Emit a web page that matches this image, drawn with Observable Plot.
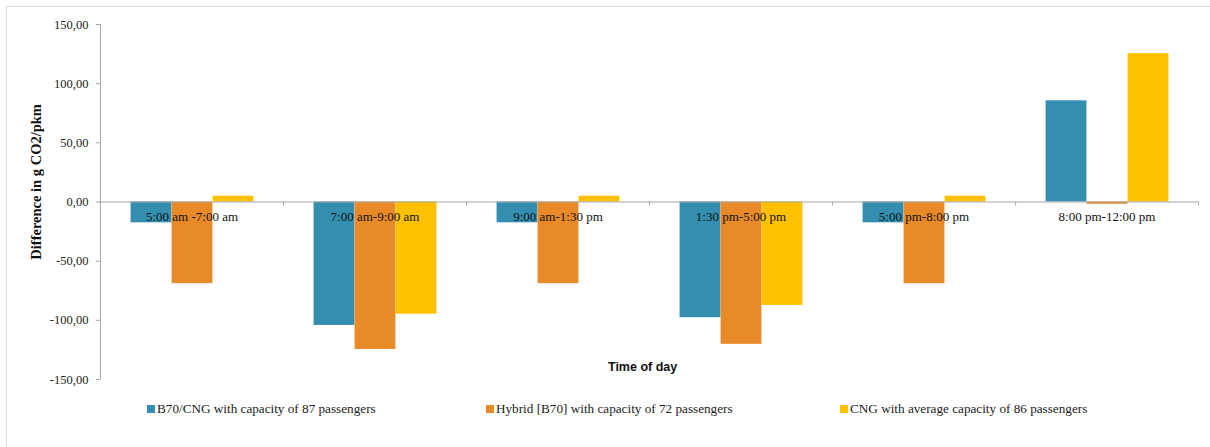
<!DOCTYPE html>
<html>
<head>
<meta charset="utf-8">
<script src="https://cdn.jsdelivr.net/npm/d3@7"></script>
<script src="https://cdn.jsdelivr.net/npm/@observablehq/plot@0.6"></script>
<style>
  html, body { margin: 0; padding: 0; background: #fff; }
  #wrap { position: relative; width: 1210px; height: 447px; overflow: hidden; }
  #frame { position: absolute; left: 6px; top: 6px; width: 1220px; height: 460px;
           border-left: 1px solid #d9d9d9; border-top: 1px solid #d9d9d9; }
  #chart { position: absolute; left: 0; top: 0; }
  #legend { position: absolute; top: 401px; left: 0; width: 1210px; height: 20px;
            font-family: "Liberation Serif", serif; font-size: 13.2px; color: #222; }
  .item { position: absolute; top: 0; display: flex; align-items: center; white-space: nowrap; }
  .sw { width: 8px; height: 8px; margin-right: 2px; }
</style>
</head>
<body>
<div id="wrap">
  <div id="frame"></div>
  <div id="chart"></div>
  <div id="legend"></div>
</div>
<script>
const categories = ["5:00 am -7:00 am", "7:00 am-9:00 am", "9:00 am-1:30 pm", "1:30 pm-5:00 pm", "5:00 pm-8:00 pm", "8:00 pm-12:00 pm"];
const seriesNames = ["B70/CNG with capacity of 87 passengers", "Hybrid [B70] with capacity of 72 passengers", "CNG with average capacity of 86 passengers"];
const b70cng = [-17.6, -104.3, -17.6, -97.8, -17.6, 85.5];
const hybrid = [-69.0, -124.6, -69.0, -120.3, -69.0, -1.9];
const cng    = [4.9, -94.8, 4.9, -87.4, 4.9, 125.4];
const colors = ["#348EB0", "#E88A27", "#FFC000"];
const yTicks = [-150, -100, -50, 0, 50, 100, 150];

const seriesValues = [b70cng, hybrid, cng];
const data = [];
seriesValues.forEach((vals, s) => vals.forEach((v, i) => data.push({time: categories[i], series: seriesNames[s], value: v})));

const W = 1210, H = 392;
const mL = 99, mR = 12, mT = 24, mB = 13;
const bw = (W - mL - mR) / categories.length;
const barW = 41;
const off = (bw - 3 * barW) / 2 + 0.5;

const fmt = v => d3.format(".2f")(v).replace(".", ",").replace("−", "-");
const serif = "Liberation Serif, serif";
const first = () => categories[0];

const barMarks = seriesNames.map((name, s) =>
  Plot.barY(data.filter(d => d.series === name), {
    x: "time", y: "value", fill: colors[s],
    insetLeft: off + s * barW, insetRight: bw - off - (s + 1) * barW
  })
);

const chart = Plot.plot({
  width: W, height: H,
  marginLeft: mL, marginRight: mR, marginTop: mT, marginBottom: mB,
  style: {fontFamily: serif, background: "transparent", overflow: "visible"},
  x: {domain: categories, padding: 0, axis: null},
  y: {domain: [-150, 150], axis: null},
  marks: [
    ...barMarks,
    Plot.ruleY([0], {stroke: "#a6a6a6", strokeWidth: 1}),
    Plot.ruleX(categories, {x: d => d, y1: 0, y2: -3.3, dx: bw / 2, stroke: "#a6a6a6"}),
    Plot.ruleX([0], {x: first, y1: -150, y2: 150, dx: -bw / 2, stroke: "#a6a6a6"}),
    Plot.tickY(yTicks, {y: d => d, x: first, dx: -4, insetRight: bw - 4, stroke: "#a6a6a6"}),
    Plot.text(yTicks, {y: d => d, x: first, dx: -bw / 2 - 12, text: d => fmt(d), textAnchor: "end", fontSize: 12.5, fill: "#222"}),
    Plot.text(categories, {x: d => d, y: () => 0, dy: 15, text: d => d, fontSize: 13, fill: "#111"}),
    Plot.text(["Time of day"], {x: () => categories[2], y: () => -150, dx: bw / 2 - 7, dy: -13, text: d => d, fontFamily: "Liberation Sans, Arial, sans-serif", fontWeight: "bold", fontSize: 12.5, fill: "#111"}),
    Plot.text(["Difference in g CO2/pkm"], {x: first, y: () => 17, dx: -bw / 2 - 64, text: d => d, rotate: -90, fontWeight: "bold", fontSize: 14.5, fill: "#111"})
  ]
});
document.getElementById("chart").appendChild(chart);

const legendPos = [147, 486, 840];
const legend = document.getElementById("legend");
seriesNames.forEach((name, i) => {
  const it = document.createElement("div");
  it.className = "item";
  it.style.left = legendPos[i] + "px";
  it.innerHTML = `<span class="sw" style="background:${colors[i]}"></span><span>${name}</span>`;
  legend.appendChild(it);
});
</script>
</body>
</html>
